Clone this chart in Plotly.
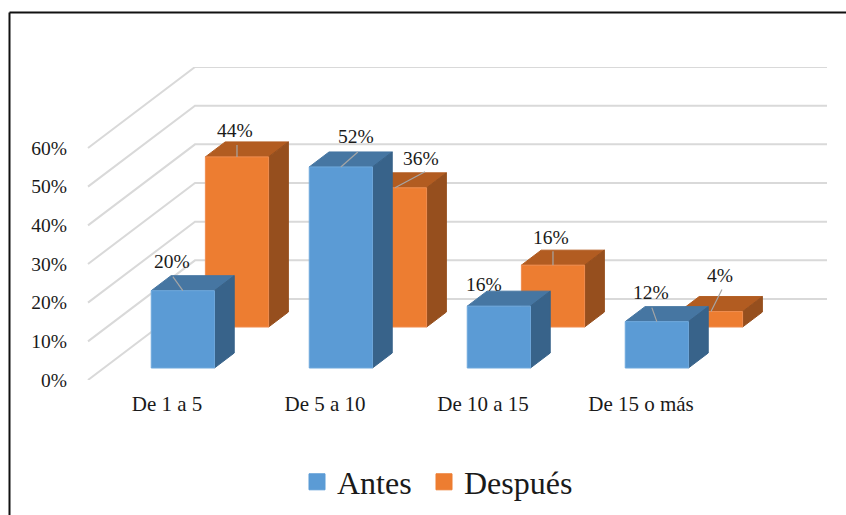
import plotly.graph_objects as go

categories = ["De 1 a 5", "De 5 a 10", "De 10 a 15", "De 15 o más"]
antes = [20, 52, 16, 12]
despues = [44, 36, 16, 4]
y_ticks = [0, 10, 20, 30, 40, 50, 60]

W, H = 846, 515
PX_L, PX_R, PX_T, PX_B = 70, 828, 67, 380
PX_PER_CAT = 158.0
PX_PER_PCT = 232 / 60
X0_PX = 167.0
DX, DY = 107 / PX_PER_CAT, 81 / PX_PER_PCT   # projected size of the chart depth
HALF = 0.2

COL_A = dict(front="#5B9BD5", top="#4676A2", side="#38638A", edge="#6FA8DC")
COL_D = dict(front="#ED7D31", top="#B25C21", side="#964F1E", edge="#F08E50")

# (label dx, label dy, leader dx, leader dy) in pixels, relative to the bar's top front centre
OFF_A = [(-10.5, -29, -10, -14), (15.5, -30, 17, -15), (-14.5, -22, 0, 0), (-6, -29, -5, -14)]
OFF_D = [(-1.5, -26, 0, -12), (26.5, -29, 30, -16), (-1.5, -28, 0, -14), (9.5, -36, 11, -22)]

fig = go.Figure()


def proj(u, v, d):
    return u + DX * d, v + DY * d


def poly(pts, fill, line):
    xs, ys = zip(*pts)
    fig.add_trace(go.Scatter(x=list(xs) + [xs[0]], y=list(ys) + [ys[0]], mode="lines", fill="toself",
                             fillcolor=fill, line=dict(color=line, width=1),
                             showlegend=False, hoverinfo="skip"))


# walls: gridlines along side wall and back wall
for t in y_ticks:
    a = proj(-0.5, t, 0)
    b = proj(-0.5, t, 1)
    c = proj(len(categories) - 0.5, t, 1)
    fig.add_trace(go.Scatter(x=[a[0], b[0], c[0]], y=[a[1], b[1], c[1]], mode="lines",
                             line=dict(color="#D9D9D9", width=2), showlegend=False, hoverinfo="skip"))


def bar(i, v, d0, d1, col):
    l, r = i - HALF, i + HALF
    poly([proj(l, v, d0), proj(r, v, d0), proj(r, v, d1), proj(l, v, d1)], col["top"], col["top"])
    poly([proj(r, 0, d0), proj(r, 0, d1), proj(r, v, d1), proj(r, v, d0)], col["side"], col["side"])
    poly([proj(l, 0, d0), proj(r, 0, d0), proj(r, v, d0), proj(l, v, d0)], col["front"], col["edge"])


def leader(i, v, d0, off):
    if off[2] == 0 and off[3] == 0:
        return
    ax, ay = proj(i, v, d0)
    fig.add_trace(go.Scatter(x=[ax, ax + off[2] / PX_PER_CAT], y=[ay, ay - off[3] / PX_PER_PCT], mode="lines",
                             line=dict(color="#A6A6A6", width=1.2), showlegend=False, hoverinfo="skip"))


def label(i, v, d0, off):
    ax, ay = proj(i, v, d0)
    fig.add_annotation(x=ax, y=ay, text=f"{v}%", showarrow=False, xshift=off[0], yshift=-off[1],
                       font=dict(family="Liberation Serif", size=19.5, color="#1a1a1a"))


D_A = (0.148, 0.333)
D_D = (0.654, 0.839)
for i, v in enumerate(despues):
    bar(i, v, *D_D, COL_D)
    leader(i, v, D_D[0], OFF_D[i])
for i, v in enumerate(antes):
    bar(i, v, *D_A, COL_A)
    leader(i, v, D_A[0], OFF_A[i])
for i, v in enumerate(despues):
    label(i, v, D_D[0], OFF_D[i])
for i, v in enumerate(antes):
    label(i, v, D_A[0], OFF_A[i])

# legend entries (each in its own legend so both can be placed exactly)
for name, c, lg in (("Antes", COL_A["front"], "legend"), ("Después", COL_D["front"], "legend2")):
    fig.add_trace(go.Scatter(x=[None], y=[None], mode="markers", name=name, legend=lg, showlegend=True,
                             marker=dict(symbol="square", size=16, color=c, line=dict(color=c, width=1))))


def legend_at(px_left):
    return dict(orientation="h", xref="paper", yref="paper",
                x=px_left / W, xanchor="left", y=(H - 482) / H, yanchor="middle",
                font=dict(size=32, family="Liberation Serif"), bgcolor="rgba(0,0,0,0)")


fig.update_layout(
    width=W, height=H, margin=dict(l=0, r=0, t=0, b=0, autoexpand=False), autosize=False,
    paper_bgcolor="white", plot_bgcolor="white",
    font=dict(family="Liberation Serif", color="#1a1a1a"),
    xaxis=dict(domain=[PX_L / W, PX_R / W],
               range=[(PX_L - X0_PX) / PX_PER_CAT, (PX_R - X0_PX) / PX_PER_CAT],
               tickmode="array", tickvals=list(range(len(categories))), ticktext=categories,
               ticks="outside", ticklen=5, tickcolor="rgba(0,0,0,0)", showgrid=False, zeroline=False,
               showline=False, tickfont=dict(size=21, family="Liberation Serif")),
    yaxis=dict(domain=[1 - PX_B / H, 1 - PX_T / H],
               range=[0, (PX_B - PX_T) / PX_PER_PCT],
               tickmode="array", tickvals=y_ticks, ticktext=[f"{t}%" for t in y_ticks],
               ticklabelstandoff=2,
               showgrid=False, zeroline=False, showline=False,
               tickfont=dict(size=19.5, family="Liberation Serif")),
    legend=legend_at(297),
    legend2=legend_at(424),
    shapes=[
        dict(type="line", xref="paper", yref="paper", x0=9.5 / W, x1=1, y0=1 - 12.5 / H, y1=1 - 12.5 / H,
             line=dict(color="#111111", width=2)),
        dict(type="line", xref="paper", yref="paper", x0=9.5 / W, x1=9.5 / W, y0=0, y1=1 - 12.5 / H,
             line=dict(color="#111111", width=2)),
    ],
)

fig.write_html("out.html", config=dict(displayModeBar=False),
               post_script="document.body.style.margin='0';")
